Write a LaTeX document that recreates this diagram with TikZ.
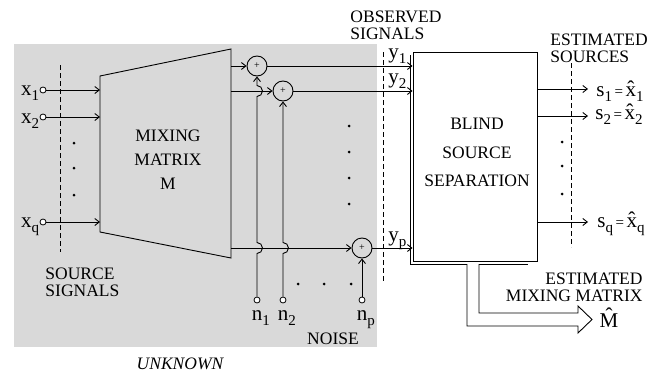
\documentclass[tikz,border=0pt]{standalone}
\usepackage{fontspec}
\setmainfont{Liberation Serif}
\usetikzlibrary{arrows.meta}
\newcommand\mysub[1]{\raisebox{-0.55ex}{\fontsize{15}{15}\selectfont #1}}
\newcommand\myeq{{\fontsize{15}{15}\selectfont\,=\,}}
\begin{document}
\begin{tikzpicture}[x=1pt,y=1pt,
  line width=0.9pt,
  arr/.style={-{Straight Barb[length=4.5pt,width=7pt]}},
  captxt/.style={font=\fontsize{17.5}{17}\selectfont, inner sep=0pt},
  vartxt/.style={font=\fontsize{21}{21}\selectfont, inner sep=0pt},
  sumnode/.style={circle, draw, minimum size=20pt, inner sep=0pt, font=\fontsize{10}{10}\selectfont},
  port/.style={circle, draw, fill=white, line width=0.8pt, minimum size=6pt, inner sep=0pt},
  dotnode/.style={circle, fill=black, minimum size=3pt, inner sep=0pt},
  dashln/.style={dash pattern=on 5pt off 3pt, line width=0.9pt}
]
\useasboundingbox (0,0) rectangle (662,-372);
% shaded unknown region
\fill[gray!30] (14,-44) rectangle (377,-347);

% source ports
\node[port] (x1) at (43,-90) {};
\node[port] (x2) at (43,-117) {};
\node[port] (xq) at (43,-222) {};
\node[vartxt, anchor=base east] at (39.5,-95) {x\mysub{1}};
\node[vartxt, anchor=base east] at (39.5,-123) {x\mysub{2}};
\node[vartxt, anchor=base east] at (39.5,-227) {x\mysub{q}};
\node[dotnode] (da1) at (74,-143) {};
\node[dotnode] (da2) at (74,-168) {};
\node[dotnode] (da3) at (74,-195) {};
\coordinate (dA) at (60,-65);
\coordinate (dB) at (60,-252);
\draw[dashln] (dA) -- (dB);

% mixing matrix trapezoid
\coordinate (tl) at (100,-76);
\coordinate (tr) at (231,-49);
\coordinate (br) at (231,-258);
\coordinate (bl) at (100,-232);
\draw (tl) -- (tr) -- (br) -- (bl) -- cycle;
\node[captxt, align=center, font=\fontsize{17.5}{24}\selectfont] (mixtxt) at (168,-160) {MIXING\\MATRIX\\M};
\coordinate (m1) at (100,-90);
\coordinate (m2) at (100,-117);
\coordinate (mq) at (100,-222);
\draw[arr] (x1) -- (m1);
\draw[arr] (x2) -- (m2);
\draw[arr] (xq) -- (mq);
\node[captxt, align=left, anchor=north west] (srclab) at (45,-267) {SOURCE\\SIGNALS};

% sums
\node[sumnode] (s1) at (257,-66) {+};
\node[sumnode] (s2) at (283,-91) {+};
\node[sumnode] (sp) at (362,-248) {+};
\coordinate (o1) at (231,-66);
\coordinate (o2) at (231,-91);
\coordinate (op) at (231,-248);
\draw[arr] (o1) -- (s1);
\draw[arr] (o2) -- (s2);
\draw[arr] (op) -- (sp);

% noise
\node[port] (n1) at (257,-300) {};
\node[port] (n2) at (283,-300) {};
\node[port] (np) at (362,-300) {};
\draw[arr] (n1) -- ([yshift=-5.5pt]n1 |- op) arc[start angle=-90, end angle=90, radius=5.5pt]
  -- ([yshift=-5.5pt]n1 |- o2) arc[start angle=-90, end angle=90, radius=5.5pt] -- (s1);
\draw[arr] (n2) -- ([yshift=-5.5pt]n2 |- op) arc[start angle=-90, end angle=90, radius=5.5pt] -- (s2);
\draw[arr] (np) -- (sp);
\node[vartxt, anchor=base west] at (251.5,-320) {n\mysub{1}};
\node[vartxt, anchor=base west] at (277.5,-320) {n\mysub{2}};
\node[vartxt, anchor=base west] at (356.5,-320) {n\mysub{p}};
\node[dotnode] (db1) at (298,-284) {};
\node[dotnode] (db2) at (324,-284) {};
\node[dotnode] (db3) at (351,-284) {};
\node[captxt, anchor=north] (noise) at (333,-332) {NOISE};
\node[dotnode] (dc1) at (349,-126) {};
\node[dotnode] (dc2) at (349,-152) {};
\node[dotnode] (dc3) at (349,-178) {};
\node[dotnode] (dc4) at (349,-204) {};
\node[captxt, anchor=north, font=\fontsize{17.5}{17}\selectfont\itshape] (unk) at (180,-357) {UNKNOWN};

% observed
\coordinate (dC) at (383,-52);
\coordinate (dD) at (383,-283);
\draw[dashln] (dC) -- (dD);
\node[captxt, align=left, anchor=north west] (obs) at (350,-10) {OBSERVED\\SIGNALS};

% BSS box
\node[draw, minimum width=124pt, minimum height=209pt, inner sep=0pt] (bss) at (475,-156.5) {};
\node[captxt, align=center, font=\fontsize{17.5}{28.5}\selectfont] (bsstxt) at (477,-152.5) {BLIND\\SOURCE\\SEPARATION};
\coordinate (sh1) at (410,-55);
\coordinate (sh2) at (410,-264);
\coordinate (sh3) at (467,-264);
\coordinate (sh4) at (479,-264);
\coordinate (sh5) at (528,-264);
\draw (sh1) -- (sh2) -- (sh3);
\draw (sh4) -- (sh5);
\draw[arr] (s1) -- (s1 -| bss.west);
\draw[arr] (s2) -- (s2 -| bss.west);
\draw[arr] (sp) -- (sp -| bss.west);
\node[vartxt, anchor=base west] at (388,-58) {y\mysub{1}};
\node[vartxt, anchor=base west] at (388,-83) {y\mysub{2}};
\node[vartxt, anchor=base west] at (388,-241) {y\mysub{p}};

% outputs
\coordinate (e1) at (588,-89);
\coordinate (e2) at (588,-116);
\coordinate (eq) at (588,-222);
\draw[arr] (bss.east |- e1) -- (e1);
\draw[arr] (bss.east |- e2) -- (e2);
\draw[arr] (bss.east |- eq) -- (eq);
\node[vartxt, anchor=base west] at (596,-96) {s\mysub{1}\myeq\^{x}\mysub{1}};
\node[vartxt, anchor=base west] at (595,-119) {s\mysub{2}\myeq\^{x}\mysub{2}};
\node[vartxt, anchor=base west] at (597,-227) {s\mysub{q}\myeq\^{x}\mysub{q}};
\coordinate (dE) at (571,-63);
\coordinate (dF) at (571,-247);
\draw[dashln] (dE) -- (dF);
\node[dotnode] (dd1) at (562,-142) {};
\node[dotnode] (dd2) at (562,-166) {};
\node[dotnode] (dd3) at (562,-194) {};
\node[captxt, align=left, anchor=north west] (estsrc) at (550,-33) {ESTIMATED\\SOURCES};

% hollow arrow
\coordinate (h1) at (467,-326);
\coordinate (h2) at (578,-326);
\coordinate (h3) at (578,-333);
\coordinate (h4) at (592,-319.5);
\coordinate (h5) at (578,-306);
\coordinate (h6) at (578,-313);
\coordinate (h7) at (479,-313);
\draw[line join=miter] (sh3) -- (h1) -- (h2) -- (h3) -- (h4) -- (h5) -- (h6) -- (h7) -- (sh4);
\node[vartxt, anchor=base] (mhat) at (609,-327) {\^{M}};
\node[captxt, align=right, anchor=north east] (estmix) at (643,-272) {ESTIMATED\\MIXING MATRIX};
\end{tikzpicture}
\end{document}
